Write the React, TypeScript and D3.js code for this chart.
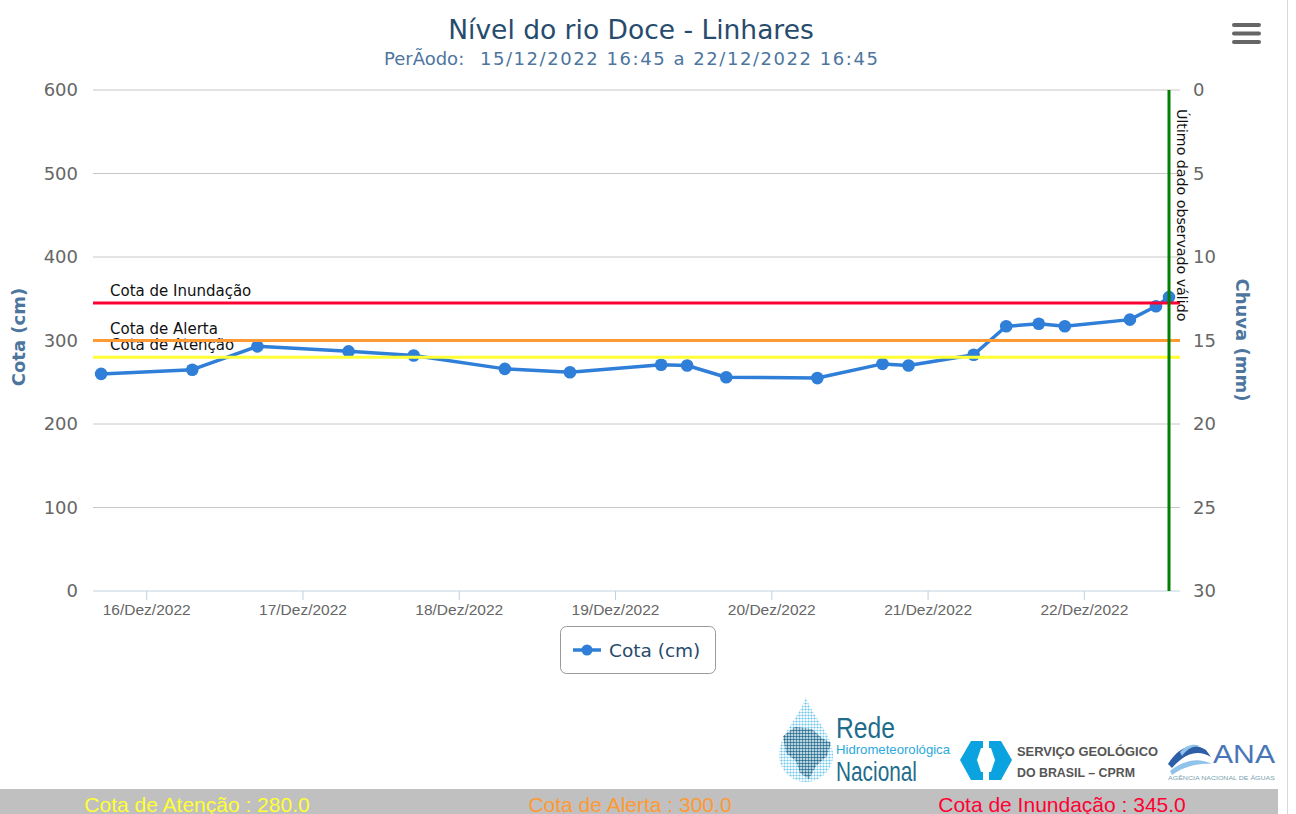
import React from "react";
import * as d3 from "d3";

// ---------- DATA ----------
const parseTime = d3.timeParse("%Y-%m-%d %H:%M");
const readingTimes = [
  "2022-12-15 17:00", "2022-12-16 07:00", "2022-12-16 17:00", "2022-12-17 07:00",
  "2022-12-17 17:00", "2022-12-18 07:00", "2022-12-18 17:00", "2022-12-19 07:00",
  "2022-12-19 11:00", "2022-12-19 17:00", "2022-12-20 07:00", "2022-12-20 17:00",
  "2022-12-20 21:00", "2022-12-21 07:00", "2022-12-21 12:00", "2022-12-21 17:00",
  "2022-12-21 21:00", "2022-12-22 07:00", "2022-12-22 11:00", "2022-12-22 13:00",
];
const cotaValues = [260, 265, 293, 287, 282, 266, 262, 271, 270, 256, 255, 272, 270, 283, 317, 320, 317, 325, 341, 352];

const xDomain = ["2022-12-15 15:45", "2022-12-22 13:00"];
const lastObserved = "2022-12-22 13:00";
const dayTickLabels = ["16/Dez/2022", "17/Dez/2022", "18/Dez/2022", "19/Dez/2022", "20/Dez/2022", "21/Dez/2022", "22/Dez/2022"];

const cotaTicks = [0, 100, 200, 300, 400, 500, 600];
const chuvaTicks = [0, 5, 10, 15, 20, 25, 30];

const thresholdNames = ["Cota de Atenção", "Cota de Alerta", "Cota de Inundação"];
const thresholdValues = [280, 300, 345];

const titleText = "Nível do rio Doce - Linhares";
const subtitleLead = "PerÃodo:";
const subtitleDates = "15/12/2022 16:45 a 22/12/2022 16:45";
const seriesName = "Cota (cm)";
const leftAxisTitle = "Cota (cm)";
const rightAxisTitle = "Chuva (mm)";
const lastLabel = "Último dado observado válido";

// ---------- STYLE ----------
const thresholdColors = ["#ffff33", "#ff9933", "#ff0033"];
const bottomLabelX = [197, 630, 1062];
const FONT = "'DejaVu Sans', Verdana, sans-serif";
const ARIAL = "'Liberation Sans', Arial, sans-serif";
const SERIES_COLOR = "#2f7ed8";

const W = 1296, H = 814;
const plot = { left: 93, right: 1169, top: 90, bottom: 591 };

export default function App() {
  const times = readingTimes.map((t) => parseTime(t) as Date);
  const data = times.map((t, i) => ({ t, v: cotaValues[i] }));

  const x = d3.scaleTime()
    .domain(xDomain.map((d) => parseTime(d) as Date))
    .range([plot.left, plot.right]);
  const y = d3.scaleLinear().domain([0, 600]).range([plot.bottom, plot.top]);
  const yR = d3.scaleLinear().domain([0, 30]).range([plot.top, plot.bottom]);

  const dayTicks = d3.timeDay.range(
    d3.timeDay.ceil(x.domain()[0]),
    x.domain()[1]
  );

  const line = d3.line<{ t: Date; v: number }>()
    .x((d) => x(d.t))
    .y((d) => y(d.v));

  const lastX = x(parseTime(lastObserved) as Date);

  return (
    <svg
      width={W}
      height={H}
      style={{ position: "absolute", left: 0, top: 0, background: "#fff" }}
      xmlns="http://www.w3.org/2000/svg"
    >
      <defs>
        <pattern id="dotL" width="3" height="3" patternUnits="userSpaceOnUse">
          <circle cx="1.5" cy="1.5" r="1.1" fill="#6cc4ea" />
        </pattern>
        <pattern id="dotD" width="3" height="3" patternUnits="userSpaceOnUse">
          <circle cx="1.5" cy="1.5" r="1.25" fill="#2b6c8c" />
        </pattern>
      </defs>
      <rect x={0} y={0} width={W} height={H} fill="#fff" />

      {/* Title */}
      <text x={631} y={39} textAnchor="middle" fontFamily={FONT} fontSize={26.5} fill="#274b6d">
        {titleText}
      </text>
      <text x={384} y={65} fontFamily={FONT} fontSize={18} fill="#4d759e">
        <tspan>{subtitleLead}</tspan>
        <tspan x={480} letterSpacing={1.55}>{subtitleDates}</tspan>
      </text>

      {/* Menu icon */}
      <g stroke="#666" strokeWidth={4} strokeLinecap="round">
        {[25, 33.5, 42].map((yy) => (
          <line key={yy} x1={1234} x2={1259} y1={yy} y2={yy} />
        ))}
      </g>

      {/* Grid lines + right ticks */}
      {cotaTicks.map((t) => (
        <line
          key={"g" + t}
          x1={plot.left}
          x2={plot.right + 11}
          y1={y(t)}
          y2={y(t)}
          stroke={t === 0 ? "#c0d0e0" : "#c8c8c8"}
          strokeWidth={1}
        />
      ))}

      {/* Left axis labels */}
      {cotaTicks.map((t) => (
        <text key={"l" + t} x={78} y={y(t)} dy="0.36em" textAnchor="end" fontFamily={FONT} fontSize={18} fill="#666">
          {t}
        </text>
      ))}
      {/* Right axis labels */}
      {chuvaTicks.map((t) => (
        <text key={"r" + t} x={1193} y={yR(t)} dy="0.36em" textAnchor="start" fontFamily={FONT} fontSize={18} fill="#666">
          {t}
        </text>
      ))}

      {/* Axis titles */}
      <text
        transform={`translate(19,337) rotate(-90)`}
        textAnchor="middle"
        dy="0.36em"
        fontFamily={FONT}
        fontSize={18}
        fontWeight="bold"
        fill="#4d759e"
      >
        {leftAxisTitle}
      </text>
      <text
        transform={`translate(1242,340) rotate(90)`}
        textAnchor="middle"
        dy="0.36em"
        fontFamily={FONT}
        fontSize={18}
        fontWeight="bold"
        fill="#4d759e"
      >
        {rightAxisTitle}
      </text>

      {/* X axis ticks and labels */}
      {dayTicks.map((d, i) => (
        <g key={"x" + i}>
          <line x1={x(d)} x2={x(d)} y1={plot.bottom} y2={plot.bottom + 9} stroke="#c0d0e0" strokeWidth={1} />
          <text x={x(d)} y={615} textAnchor="middle" fontFamily={ARIAL} fontSize={15.5} fill="#666">
            {dayTickLabels[i]}
          </text>
        </g>
      ))}

      {/* Series */}
      <path d={line(data) || ""} fill="none" stroke={SERIES_COLOR} strokeWidth={3.5} strokeLinejoin="round" />
      {data.map((d, i) => (
        <circle key={"p" + i} cx={x(d.t)} cy={y(d.v)} r={6.3} fill={SERIES_COLOR} />
      ))}

      {/* Threshold plot lines */}
      {thresholdValues.map((v, i) => (
        <g key={"th" + i}>
          <line x1={plot.left} x2={plot.right + 11} y1={y(v)} y2={y(v)} stroke={thresholdColors[i]} strokeWidth={3} />
          <text x={110} y={y(v) - 7} fontFamily={FONT} fontSize={15} fill="#111">
            {thresholdNames[i]}
          </text>
        </g>
      ))}

      {/* Last observed vertical line */}
      <line x1={lastX} x2={lastX} y1={plot.top} y2={plot.bottom} stroke="#008000" strokeWidth={3} />
      <text transform={`translate(${lastX + 8},109) rotate(90)`} fontFamily={FONT} fontSize={14.2} fill="#111">
        {lastLabel}
      </text>

      {/* Legend */}
      <rect x={560.5} y={626.5} width={155} height={47} rx={6} fill="#fff" stroke="#999" strokeWidth={1} />
      <line x1={573} x2={601} y1={650} y2={650} stroke={SERIES_COLOR} strokeWidth={3.5} />
      <circle cx={587} cy={650} r={5.5} fill={SERIES_COLOR} />
      <text x={609} y={656.5} fontFamily={FONT} fontSize={18.5} fill="#274b6d">
        {seriesName}
      </text>

      {/* Logos: Rede Hidrometeorológica Nacional */}
      <path
        d="M806,697 C812,716 833,735 833,755 A27,27 0 0 1 779,755 C779,735 800,716 806,697 Z"
        fill="url(#dotL)"
      />
      <path
        d="M783,736 L795,727 L812,729 L822,738 L831,743 L827,756 L816,766 L809,779 L800,773 L796,761 L786,753 Z"
        fill="url(#dotD)"
      />
      <text x={836} y={738} fontFamily={ARIAL} fontSize={30} fill="#1f6d8c" textLength={59} lengthAdjust="spacingAndGlyphs">
        Rede
      </text>
      <text x={836} y={754} fontFamily={ARIAL} fontSize={13.5} fill="#2aa8dc" textLength={114} lengthAdjust="spacingAndGlyphs">
        Hidrometeorológica
      </text>
      <text x={836} y={781} fontFamily={ARIAL} fontSize={28} fill="#1f6d8c" textLength={81} lengthAdjust="spacingAndGlyphs">
        Nacional
      </text>

      {/* CPRM */}
      <polygon points="960,760 971,741 1001,741 1012,760 1001,780 971,780" fill="#0aa3e0" />
      <polygon points="977,760 981,748 991,748 995,760 991,772 981,772" fill="#fff" />
      <rect x={983} y={740} width={6} height={9} fill="#fff" />
      <rect x={983} y={771} width={6} height={10} fill="#fff" />
      <text x={1017} y={756} fontFamily={ARIAL} fontSize={13} fontWeight="bold" fill="#555" textLength={141} lengthAdjust="spacingAndGlyphs">
        SERVIÇO GEOLÓGICO
      </text>
      <text x={1017} y={777} fontFamily={ARIAL} fontSize={13} fontWeight="bold" fill="#555" textLength={118} lengthAdjust="spacingAndGlyphs">
        DO BRASIL – CPRM
      </text>

      {/* ANA */}
      <path d="M1168,764 C1178,748 1192,741 1206,750 L1211,757 C1198,749 1185,753 1172,768 Z" fill="#2d5fa6" />
      <path d="M1170,771 C1184,760 1198,757 1212,764 C1198,763 1185,766 1172,775 Z" fill="#8fc3ea" />
      <path d="M1180,752 C1186,745 1194,743 1200,746 C1192,746 1186,750 1182,756 Z" fill="#8fc3ea" />
      <text x={1213} y={763} fontFamily={ARIAL} fontSize={26} fill="#4a76b8" textLength={62} lengthAdjust="spacingAndGlyphs">
        ANA
      </text>
      <text x={1168} y={780} fontFamily={ARIAL} fontSize={5.5} fill="#7a9fb0" textLength={107} lengthAdjust="spacingAndGlyphs">
        AGÊNCIA NACIONAL DE ÁGUAS
      </text>

      {/* Bottom bar */}
      <rect x={0} y={789} width={1278} height={25} fill="#c0c0c0" />
      {thresholdValues.map((v, i) => (
        <text
          key={"b" + i}
          x={bottomLabelX[i]}
          y={812}
          textAnchor="middle"
          fontFamily={ARIAL}
          fontSize={21}
          fill={thresholdColors[i]}
        >
          {`${thresholdNames[i]} : ${v.toFixed(1)}`}
        </text>
      ))}

      {/* right container border */}
      <line x1={1287.5} x2={1287.5} y1={0} y2={H} stroke="#d8d8d8" strokeWidth={1} />
    </svg>
  );
}
